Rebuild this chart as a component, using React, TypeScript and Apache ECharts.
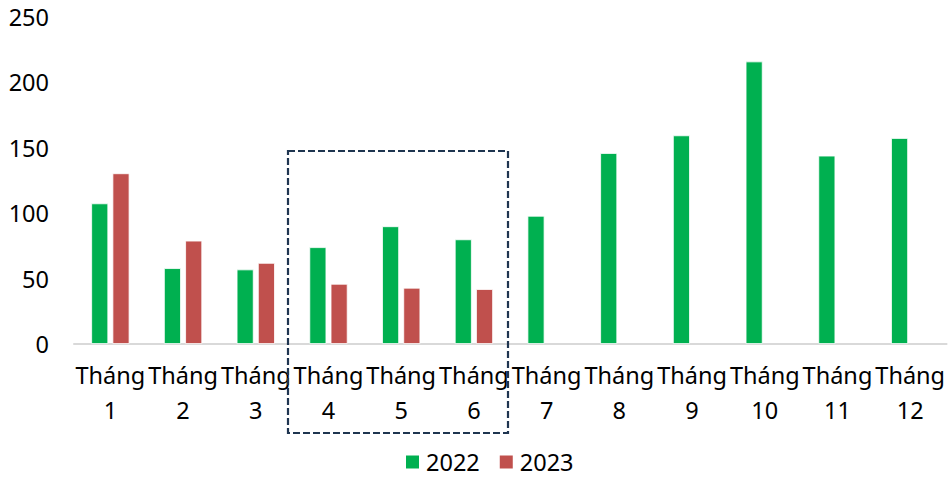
import React, { useEffect, useRef } from "react";
import * as echarts from "echarts";

const months = ["Tháng\n1", "Tháng\n2", "Tháng\n3", "Tháng\n4", "Tháng\n5", "Tháng\n6", "Tháng\n7", "Tháng\n8", "Tháng\n9", "Tháng\n10", "Tháng\n11", "Tháng\n12"];
const values2022 = [107.5, 58, 57, 74, 90, 80, 98, 146, 159.5, 216, 144, 157.5];
const values2023 = [130.5, 79, 62, 46, 43, 42, null, null, null, null, null, null];
const seriesNames = ["2022", "2023"];

const FONT = "'Noto Sans', sans-serif";
const TEXT = "#000000";

export default function App() {
  const ref = useRef<HTMLDivElement>(null);

  useEffect(() => {
    if (!ref.current) return;
    const chart = echarts.init(ref.current, undefined, { renderer: "svg" });
    chart.setOption({
      animation: false,
      textStyle: { fontFamily: FONT },
      grid: { left: 74, right: 0, top: 17, bottom: 134, containLabel: false },
      legend: {
        top: 450,
        left: 404,
        padding: 0,
        itemWidth: 15,
        itemHeight: 15,
        itemGap: 18,
        icon: "rect",
        textStyle: { fontSize: 23.5, lineHeight: 22, color: TEXT, fontFamily: FONT, padding: [0, 0, 0, 1] },
        data: seriesNames,
      },
      xAxis: {
        type: "category",
        data: months,
        axisLine: { lineStyle: { color: "#d9d9d9", width: 2 } },
        axisTick: { show: false },
        axisLabel: {
          interval: 0,
          fontSize: 23.5,
          lineHeight: 35,
          color: TEXT,
          margin: 13,
          fontFamily: FONT,
        },
      },
      yAxis: {
        type: "value",
        min: 0,
        max: 250,
        interval: 50,
        splitLine: { show: false },
        axisLine: { show: false },
        axisTick: { show: false },
        axisLabel: { fontSize: 23.5, color: TEXT, margin: 25, fontFamily: FONT },
      },
      series: [
        {
          name: seriesNames[0],
          type: "bar",
          data: values2022,
          barWidth: 17,
          barGap: "25%",
          itemStyle: { color: "#00b050", borderColor: "#ffffff", borderWidth: 0.8 },
        },
        {
          name: seriesNames[1],
          type: "bar",
          data: values2023,
          barWidth: 17,
          itemStyle: { color: "#c0504d", borderColor: "#ffffff", borderWidth: 0.8 },
        },
      ],
      graphic: [
        {
          type: "rect",
          shape: { x: 288, y: 151, width: 220, height: 282 },
          style: { fill: "none", stroke: "#1f3550", lineWidth: 2.2, lineDash: [7, 3] },
          z: 10,
        },
      ],
    });
    return () => chart.dispose();
  }, []);

  return <div ref={ref} style={{ width: 948, height: 478, position: "absolute", left: 0, top: 0 }} />;
}
